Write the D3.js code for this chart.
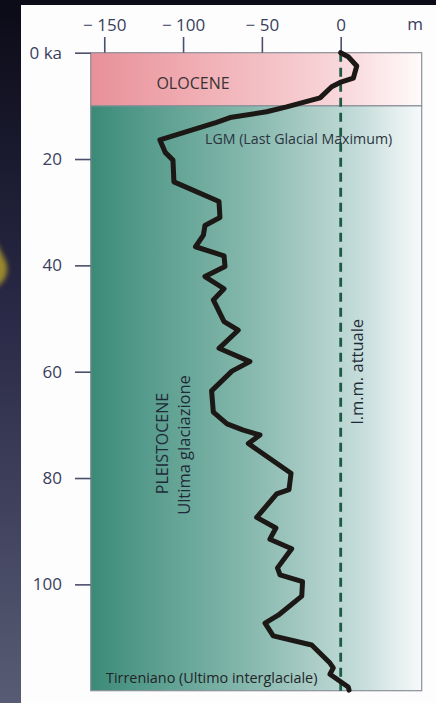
<!DOCTYPE html>
<html>
<head>
<meta charset="utf-8">
<script src="https://cdn.jsdelivr.net/npm/d3@7"></script>
<style>
  html, body { margin: 0; padding: 0; background: #fdfdfe; }
  svg { display: block; }
  text { font-family: "Open Sans", "Noto Sans", sans-serif; }
</style>
</head>
<body>
<svg id="chart" width="436" height="703"></svg>
<script>
// Sea level curve over the last glacial cycle (age in ka, level in m vs present)
const ageKa = [0, 0.75, 2.5, 4.8, 5.6, 6.4, 8.5, 10.2, 11.1, 12.2, 13.1, 16.4, 18.8, 20.2, 24.3,
  28.0, 31.0, 32.5, 34.3, 36.5, 38.2, 40.2, 42.1, 44.4, 46.5, 50.6, 52.2, 55.6, 58.1, 59.9,
  63.6, 67.6, 69.8, 71.0, 71.9, 73.5, 79.1, 82.2, 83.0, 87.4, 89.4, 91.5, 93.3, 96.9, 98.2,
  99.5, 102.2, 105.8, 107.3, 109.7, 111.4, 114.8, 115.7, 116.9, 119.3, 119.9];
const seaLevel = [0, 4.8, 10.2, 8.0, -0.4, -5.7, -13.1, -34.3, -47.0, -70.2, -78.7, -114.7, -111.2, -106.4, -105.8,
  -77.2, -76.6, -86.1, -87.1, -92.1, -74.0, -73.4, -86.1, -74.0, -80.8, -74.0, -65.0, -77.2, -57.6, -69.0,
  -81.9, -80.8, -72.1, -61.8, -51.2, -58.6, -31.5, -32.8, -40.6, -53.3, -41.1, -44.9, -31.1, -40.1, -38.5,
  -24.2, -24.7, -39.6, -48.0, -42.8, -18.4, -6.8, -4.7, -6.8, 4.8, 5.3];

// Axes
const depthTicks = [-150, -100, -50, 0];
const ageTicks = [0, 20, 40, 60, 80, 100];
const depthUnit = "m";

// Epochs (ka)
const epochNames = ["OLOCENE", "PLEISTOCENE"];
const epochStart = [0, 10];
const epochEnd = [10, 120];

const svg = d3.select("#chart");
const W = 436, H = 703;

const plot = { left: 90.7, right: 421.7, top: 52.7, bottom: 690.7 };
const x = d3.scaleLinear().domain([-158.6, 51.4]).range([plot.left, plot.right]);
const y = d3.scaleLinear().domain([0, 120]).range([plot.top, plot.bottom]);

const defs = svg.append("defs");

// Page backdrop: dark frame on the left and top
const frameGrad = defs.append("linearGradient").attr("id", "frame")
  .attr("x1", 0).attr("y1", 0).attr("x2", 0).attr("y2", 1);
frameGrad.append("stop").attr("offset", "0%").attr("stop-color", "#0b0b17");
frameGrad.append("stop").attr("offset", "45%").attr("stop-color", "#2a2947");
frameGrad.append("stop").attr("offset", "100%").attr("stop-color", "#575c74");

const glow = defs.append("filter").attr("id", "glow").attr("x", "-100%").attr("y", "-100%")
  .attr("width", "300%").attr("height", "300%");
glow.append("feGaussianBlur").attr("stdDeviation", 2.5);

svg.append("rect").attr("x", 0).attr("y", 0).attr("width", W).attr("height", H).attr("fill", "url(#frame)");
svg.append("rect").attr("x", 0).attr("y", 0).attr("width", W).attr("height", 5).attr("fill", "#0c0c18");
svg.append("path")
  .attr("d", "M-6,238 L6,262 Q9,272 4,280 L-6,290 Z")
  .attr("fill", "#b09a2c").attr("opacity", 0.85).attr("filter", "url(#glow)");
svg.append("rect").attr("x", 21).attr("y", 5).attr("width", W - 21).attr("height", H - 5).attr("fill", "#fdfdfe");

// Band gradients
const greenGrad = defs.append("linearGradient").attr("id", "green")
  .attr("gradientUnits", "userSpaceOnUse")
  .attr("x1", plot.left).attr("y1", 0).attr("x2", plot.right).attr("y2", 0);
[["0%", "#3a8a76"], ["10%", "#4c9584"], ["30%", "#6aa89a"], ["52%", "#8dbcb2"],
 ["70%", "#b0d0ca"], ["82%", "#c6dddb"], ["92%", "#e2eeed"], ["100%", "#f7f9f9"]]
  .forEach(s => greenGrad.append("stop").attr("offset", s[0]).attr("stop-color", s[1]));

const pinkGrad = defs.append("linearGradient").attr("id", "pink")
  .attr("gradientUnits", "userSpaceOnUse")
  .attr("x1", plot.left).attr("y1", 0).attr("x2", plot.right).attr("y2", 0);
[["0%", "#e8909a"], ["30%", "#f0acb2"], ["60%", "#f5c7cb"], ["78%", "#f9dadd"],
 ["100%", "#fffafa"]]
  .forEach(s => pinkGrad.append("stop").attr("offset", s[0]).attr("stop-color", s[1]));

const bandFill = ["url(#pink)", "url(#green)"];
svg.append("g").selectAll("rect")
  .data(epochNames)
  .join("rect")
  .attr("x", plot.left)
  .attr("y", (d, i) => y(epochStart[i]))
  .attr("width", plot.right - plot.left)
  .attr("height", (d, i) => y(epochEnd[i]) - y(epochStart[i]))
  .attr("fill", (d, i) => bandFill[i])
  .attr("stroke", "#8c8f99")
  .attr("stroke-width", 1.2);

// Present mean sea level
svg.append("line")
  .attr("x1", x(0)).attr("x2", x(0))
  .attr("y1", y(0)).attr("y2", y(120))
  .attr("stroke", "#1d5a44").attr("stroke-width", 2.8)
  .attr("stroke-dasharray", "9,6");

// Top axis (depth)
const topAxis = svg.append("g")
  .attr("transform", `translate(0,${plot.top})`)
  .call(d3.axisTop(x).tickValues(depthTicks).tickSize(15.7).tickPadding(6.5)
    .tickFormat(d => d < 0 ? "\u2212 " + Math.abs(d) : String(d)));
topAxis.select(".domain").remove();
topAxis.selectAll(".tick line").attr("stroke", "#4a4f6c").attr("stroke-width", 1.6);
topAxis.selectAll(".tick text").attr("fill", "#3a3e5c").attr("font-size", 17)
  .style("font-family", "'Open Sans', sans-serif");

svg.append("text")
  .attr("x", 415).attr("y", 30)
  .attr("text-anchor", "middle")
  .attr("fill", "#3a3e5c").attr("font-size", 17)
  .text(depthUnit);

// Left axis (age)
const leftAxis = svg.append("g")
  .attr("transform", `translate(${plot.left},0)`)
  .call(d3.axisLeft(y).tickValues(ageTicks).tickSize(15.7).tickPadding(13)
    .tickFormat(d => d === 0 ? "0 ka" : String(d)));
leftAxis.select(".domain").remove();
leftAxis.selectAll(".tick line").attr("stroke", "#4a4f6c").attr("stroke-width", 1.6);
leftAxis.selectAll(".tick text").attr("fill", "#3a3e5c").attr("font-size", 17)
  .style("font-family", "'Open Sans', sans-serif");

// Sea level curve
const pts = ageKa.map((a, i) => [seaLevel[i], a]);
svg.append("path")
  .datum(pts)
  .attr("fill", "none")
  .attr("stroke", "#1b1815")
  .attr("stroke-width", 5)
  .attr("stroke-linejoin", "round")
  .attr("stroke-linecap", "round")
  .attr("d", d3.line().x(d => x(d[0])).y(d => y(d[1])));

// Labels
svg.append("text")
  .attr("x", 193).attr("y", 88.5)
  .attr("text-anchor", "middle")
  .attr("fill", "#3b3333").attr("font-size", 16)
  .text(epochNames[0]);

svg.append("text")
  .attr("x", 205).attr("y", 144.3)
  .attr("fill", "#2b3440").attr("font-size", 14.2)
  .text("LGM (Last Glacial Maximum)");

svg.append("text")
  .attr("transform", "translate(168.3,443.5) rotate(-90)")
  .attr("text-anchor", "middle")
  .attr("fill", "#1f2a38").attr("font-size", 16)
  .text(epochNames[1]);

svg.append("text")
  .attr("transform", "translate(190,445) rotate(-90)")
  .attr("text-anchor", "middle")
  .attr("fill", "#1f2a38").attr("font-size", 16.5)
  .text("Ultima glaciazione");

svg.append("text")
  .attr("transform", "translate(363,371.7) rotate(-90)")
  .attr("text-anchor", "middle")
  .attr("fill", "#1f2a38").attr("font-size", 16.5)
  .text("l.m.m. attuale");

svg.append("text")
  .attr("x", 106).attr("y", 683.3)
  .attr("fill", "#222428").attr("font-size", 14.4)
  .text("Tirreniano (Ultimo interglaciale)");
</script>
</body>
</html>
